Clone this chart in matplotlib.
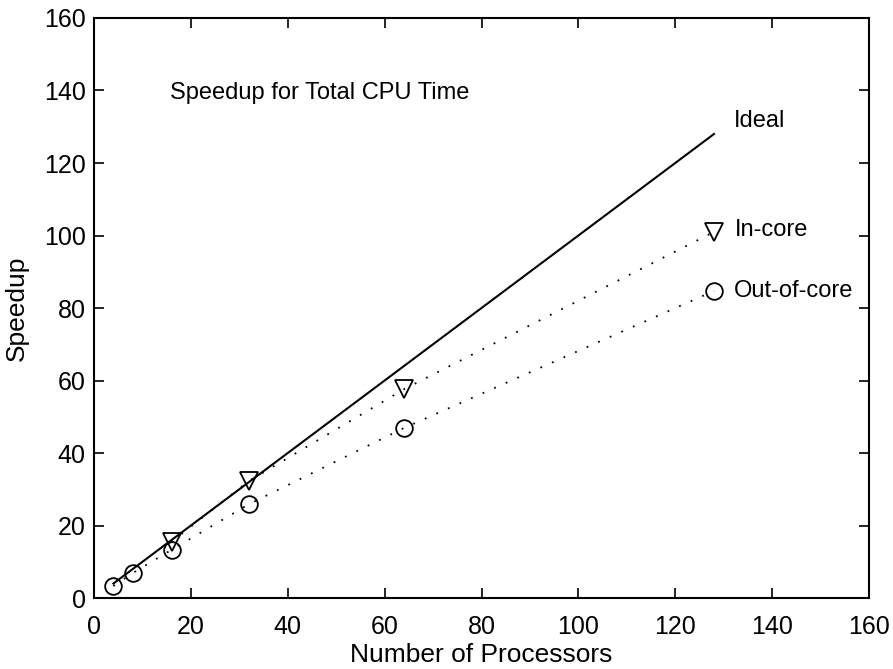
import matplotlib
matplotlib.use('Agg')
import matplotlib.pyplot as plt

plt.rcParams['font.family'] = ['Liberation Sans', 'DejaVu Sans']

# ideal speedup
ideal_procs = [4, 128]
ideal_speedup = [4, 128]

# measured speedup
incore_procs = [16, 32, 64, 128]
incore_speedup = [15.5, 32.3, 57.6, 101]

outcore_procs = [4, 8, 16, 32, 64, 128]
outcore_speedup = [3.3, 6.9, 13.3, 25.9, 46.9, 84.7]

xticks = [0, 20, 40, 60, 80, 100, 120, 140, 160]
yticks = [0, 20, 40, 60, 80, 100, 120, 140, 160]

fig = plt.figure(figsize=(8.93, 6.69), dpi=100)
ax = fig.add_axes([0.1053, 0.1061, 0.8678, 0.867])

dots = (0, (1, 6))
ax.plot(ideal_procs, ideal_speedup, '-', color='black', lw=1.5)
ax.plot(incore_procs, incore_speedup, linestyle=dots, color='black', lw=1.3,
        marker='v', markersize=13, markerfacecolor='none', markeredgewidth=1.3)
ax.plot(outcore_procs, outcore_speedup, linestyle=dots, color='black', lw=1.3,
        marker='o', markersize=12, markerfacecolor='none', markeredgewidth=1.3)

fs = 17
ax.text(15.7, 139.3, 'Speedup for Total CPU Time', fontsize=fs, va='center', ha='left')
ax.text(132.1, 131.6, 'Ideal', fontsize=fs, va='center', ha='left')
ax.text(132.3, 101.5, 'In-core', fontsize=fs, va='center', ha='left')
ax.text(132.1, 84.7, 'Out-of-core', fontsize=fs, va='center', ha='left')

ax.set_xlim(0, 160)
ax.set_ylim(0, 160)
ax.set_xticks(xticks)
ax.set_yticks(yticks)
ax.tick_params(direction='in', length=7, width=1.2, top=True, right=True,
               labelsize=18)
ax.tick_params(axis='x', pad=12)
ax.tick_params(axis='y', pad=6)
for s in ax.spines.values():
    s.set_linewidth(1.5)

ax.set_xlabel('Number of Processors', fontsize=19, labelpad=3)
ax.set_ylabel('Speedup', fontsize=19, labelpad=11)

fig.savefig('out.png', dpi=100)
